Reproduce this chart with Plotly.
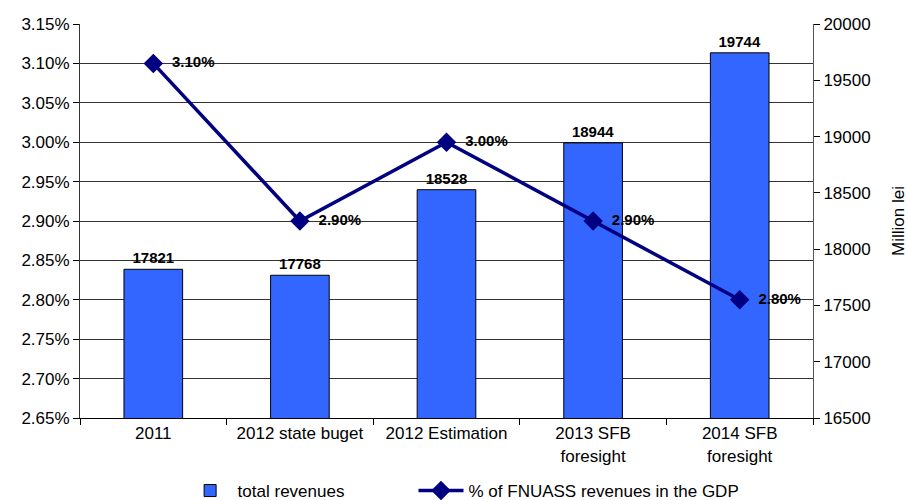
import plotly.graph_objects as go

categories = ["2011", "2012 state buget", "2012 Estimation", "2013 SFB<br>foresight", "2014 SFB<br>foresight"]
total_revenues = [17821, 17768, 18528, 18944, 19744]
gdp_share = [0.031, 0.029, 0.030, 0.029, 0.028]

FONT = "Liberation Sans, Arial, sans-serif"

fig = go.Figure()

# bars on the right-hand axis (million lei)
fig.add_trace(go.Bar(
    x=categories, y=total_revenues, name="total revenues",
    marker=dict(color="#3366FF", line=dict(color="#000000", width=1)),
    width=0.4,
    text=[str(v) for v in total_revenues], textposition="outside",
    textfont=dict(family=FONT, size=15, color="#000000", weight="bold"),
    cliponaxis=False,
    yaxis="y",
    legend="legend",
))

# share of GDP line on the left-hand axis
fig.add_trace(go.Scatter(
    x=categories, y=gdp_share, name="% of FNUASS revenues in the GDP",
    mode="lines+markers+text",
    line=dict(color="#000080", width=3.5),
    marker=dict(symbol="diamond", size=15, color="#000080"),
    text=[f"  {v*100:.2f}%" for v in gdp_share], textposition="middle right",
    textfont=dict(family=FONT, size=15, color="#000000", weight="bold"),
    cliponaxis=False,
    yaxis="y2",
    legend="legend2",
))

legend_common = dict(orientation="h", yref="container", yanchor="middle", y=0.018,
                     xref="paper", xanchor="left",
                     font=dict(size=17), itemwidth=45, bgcolor="rgba(0,0,0,0)")

fig.update_layout(
    width=908, height=500,
    margin=dict(l=80, r=95, t=24, b=82),
    paper_bgcolor="white", plot_bgcolor="white",
    font=dict(family=FONT, size=17, color="#000000"),
    showlegend=True,
    legend=dict(legend_common, x=0.14),
    legend2=dict(legend_common, x=0.455),
    xaxis=dict(
        type="category", tickson="boundaries", ticks="outside", ticklen=6,
        tickcolor="#000000", showline=True, linecolor="#000000", linewidth=1,
        showgrid=False, tickfont=dict(size=17), automargin=False,
    ),
    yaxis=dict(
        side="right", range=[16500, 20000], dtick=500, tick0=16500, tickformat="d",
        ticks="outside", ticklen=6, tickcolor="#000000",
        showline=True, linecolor="#555555", linewidth=1,
        showgrid=False, zeroline=False, tickfont=dict(size=17), automargin=False,
        title=dict(text="Million lei", font=dict(size=17), standoff=24),
    ),
    yaxis2=dict(
        side="left", overlaying="y", range=[0.0265, 0.0315], dtick=0.0005, tick0=0.0265,
        tickformat=".2%", ticks="outside", ticklen=6, tickcolor="#000000",
        showline=True, linecolor="#333333", linewidth=1,
        showgrid=True, gridcolor="#333333", gridwidth=1, zeroline=False,
        tickfont=dict(size=17), automargin=False,
    ),
)

fig.write_html("out.html")
